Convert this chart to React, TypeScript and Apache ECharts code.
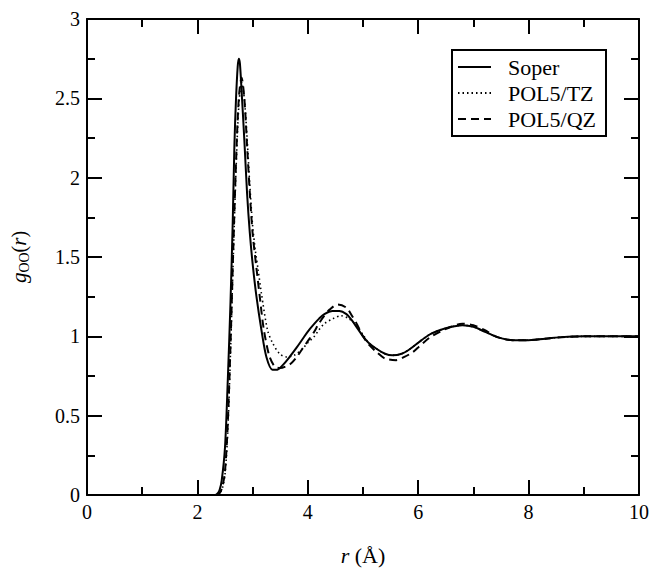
import React, { useEffect, useRef } from "react";
import * as echarts from "echarts";

const seriesNames = ["Soper", "POL5/TZ", "POL5/QZ"];

const rSoper = [0, 2.3, 2.35, 2.4, 2.44, 2.5, 2.55, 2.6, 2.64, 2.67, 2.7, 2.73, 2.75, 2.77, 2.8, 2.85, 2.9, 2.95, 3.0, 3.07, 3.16, 3.25, 3.36, 3.45, 3.55, 3.67, 3.8, 3.9, 4.0, 4.12, 4.2, 4.3, 4.45, 4.57, 4.7, 4.8, 4.9, 5.0, 5.1, 5.25, 5.4, 5.53, 5.7, 5.85, 6.0, 6.2, 6.4, 6.6, 6.8, 7.0, 7.2, 7.4, 7.6, 7.8, 7.95, 8.3, 8.6, 9.0, 9.5, 10];
const gSoper = [0, 0, 0.005, 0.03, 0.09, 0.3, 0.72, 1.22, 1.72, 2.2, 2.5, 2.7, 2.75, 2.72, 2.55, 2.24, 1.9, 1.65, 1.46, 1.25, 1.04, 0.87, 0.79, 0.79, 0.82, 0.87, 0.93, 0.98, 1.03, 1.08, 1.11, 1.14, 1.16, 1.16, 1.14, 1.1, 1.05, 1.0, 0.96, 0.92, 0.89, 0.88, 0.89, 0.92, 0.96, 1.01, 1.04, 1.06, 1.07, 1.06, 1.03, 1.0, 0.98, 0.975, 0.975, 0.985, 0.995, 1.0, 1.0, 1.0];

const rTZ = [0, 2.35, 2.4, 2.45, 2.5, 2.55, 2.6, 2.65, 2.7, 2.75, 2.8, 2.85, 2.9, 2.95, 3.0, 3.05, 3.1, 3.16, 3.27, 3.36, 3.49, 3.62, 3.75, 3.9, 4.0, 4.12, 4.2, 4.3, 4.45, 4.6, 4.75, 4.9, 5.0, 5.1, 5.25, 5.4, 5.53, 5.7, 5.85, 6.0, 6.2, 6.4, 6.6, 6.8, 7.0, 7.2, 7.4, 7.6, 7.8, 7.95, 8.3, 8.6, 9.0, 9.5, 10];
const gTZ = [0, 0, 0.01, 0.04, 0.13, 0.4, 0.9, 1.5, 2.05, 2.45, 2.6, 2.5, 2.25, 1.95, 1.7, 1.54, 1.42, 1.27, 1.04, 0.96, 0.89, 0.87, 0.88, 0.92, 0.96, 1.0, 1.04, 1.08, 1.11, 1.13, 1.11, 1.06, 1.01, 0.96, 0.92, 0.89, 0.88, 0.89, 0.92, 0.96, 1.01, 1.04, 1.06, 1.07, 1.06, 1.03, 1.0, 0.98, 0.975, 0.975, 0.985, 0.995, 1.0, 1.0, 1.0];

const rQZ = [0, 2.35, 2.4, 2.45, 2.5, 2.55, 2.6, 2.65, 2.7, 2.75, 2.8, 2.85, 2.9, 2.95, 3.0, 3.06, 3.13, 3.2, 3.3, 3.4, 3.5, 3.6, 3.7, 3.8, 3.9, 4.0, 4.1, 4.2, 4.3, 4.4, 4.54, 4.7, 4.8, 4.9, 5.0, 5.1, 5.25, 5.4, 5.6, 5.75, 5.9, 6.0, 6.2, 6.4, 6.6, 6.8, 7.0, 7.2, 7.4, 7.6, 7.8, 7.95, 8.3, 8.6, 9.0, 9.5, 10];
const gQZ = [0, 0, 0.01, 0.05, 0.15, 0.45, 0.95, 1.55, 2.1, 2.5, 2.63, 2.5, 2.2, 1.9, 1.65, 1.46, 1.25, 1.05, 0.88, 0.81, 0.8, 0.81, 0.83, 0.87, 0.92, 0.97, 1.02, 1.08, 1.13, 1.17, 1.2, 1.18, 1.13, 1.07, 1.0, 0.95, 0.9, 0.86, 0.85, 0.87, 0.9, 0.93, 0.99, 1.03, 1.06, 1.08, 1.07, 1.04, 1.0, 0.98, 0.975, 0.975, 0.985, 0.995, 1.0, 1.0, 1.0];

const xMin = 0, xMax = 10, xStep = 2;
const yMin = 0, yMax = 3, yStep = 0.5;

const FONT = "Liberation Serif, serif";

function zip(r: number[], g: number[]) {
  return r.map((v, i) => [v, g[i]]);
}

export default function App() {
  const ref = useRef<HTMLDivElement>(null);
  useEffect(() => {
    if (!ref.current) return;
    const chart = echarts.init(ref.current, undefined, { renderer: "svg" });
    const axisCommon = (show: boolean) => ({
      type: "value" as const,
      axisLine: { show: true, onZero: false, lineStyle: { color: "#000", width: 2 } },
      axisTick: { show: true, inside: true, length: 15, lineStyle: { color: "#000", width: 2 } },
      minorTick: { show: true, splitNumber: 2, length: 8, lineStyle: { color: "#000", width: 2 } },
      splitLine: { show: false },
      axisLabel: { show, color: "#000", fontFamily: FONT, fontSize: 20 },
    });
    chart.setOption({
      animation: false,
      backgroundColor: "#fff",
      textStyle: { fontFamily: FONT },
      grid: { left: 87, right: 11, top: 19, bottom: 77 },
      legend: {
        orient: "vertical",
        left: 452,
        top: 50,
        padding: [6, 10, 6, 5],
        itemGap: 4,
        itemWidth: 33,
        itemHeight: 14,
        borderColor: "#000",
        borderWidth: 2,
        backgroundColor: "#fff",
        itemStyle: { opacity: 0 },
        textStyle: { color: "#000", fontFamily: FONT, fontSize: 22, padding: [0, 0, 0, 12] },
        data: seriesNames,
      },
      xAxis: [
        {
          ...axisCommon(true),
          min: xMin, max: xMax, interval: xStep,
          position: "bottom",
          axisLabel: { show: true, color: "#000", fontFamily: FONT, fontSize: 20, margin: 7 },
          name: "{i|r} (Å)",
          nameLocation: "middle",
          nameGap: 49,
          nameTextStyle: {
            color: "#000", fontFamily: FONT, fontSize: 22,
            rich: { i: { fontStyle: "italic", fontFamily: FONT, fontSize: 22, color: "#000" } },
          },
        },
        { ...axisCommon(false), min: xMin, max: xMax, interval: xStep, position: "top" },
      ],
      yAxis: [
        {
          ...axisCommon(true),
          min: yMin, max: yMax, interval: yStep,
          position: "left",
          axisLabel: { show: true, color: "#000", fontFamily: FONT, fontSize: 20, margin: 7 },
          name: "{i|g}{s|OO}({i|r})",
          nameLocation: "middle",
          nameGap: 56,
          nameRotate: 90,
          nameTextStyle: {
            color: "#000", fontFamily: FONT, fontSize: 20,
            rich: {
              i: { fontStyle: "italic", fontFamily: FONT, fontSize: 21, color: "#000" },
              s: { fontFamily: FONT, fontSize: 14, color: "#000", verticalAlign: "bottom", padding: [10, 0, 0, 0] },
            },
          },
        },
        { ...axisCommon(false), min: yMin, max: yMax, interval: yStep, position: "right" },
      ],
      series: [
        {
          name: seriesNames[0], type: "line", symbol: "none", smooth: 0.3,
          data: zip(rSoper, gSoper),
          lineStyle: { color: "#000", width: 2, type: "solid" },
          itemStyle: { color: "#000" },
        },
        {
          name: seriesNames[1], type: "line", symbol: "none", smooth: 0.3,
          data: zip(rTZ, gTZ),
          lineStyle: { color: "#000", width: 1.6, type: [1.5, 3] },
          itemStyle: { color: "#000" },
        },
        {
          name: seriesNames[2], type: "line", symbol: "none", smooth: 0.3,
          data: zip(rQZ, gQZ),
          lineStyle: { color: "#000", width: 2, type: [8, 5] },
          itemStyle: { color: "#000" },
        },
      ],
    });
    return () => chart.dispose();
  }, []);
  return <div ref={ref} style={{ width: 652, height: 572, position: "absolute", left: 0, top: 0 }} />;
}
